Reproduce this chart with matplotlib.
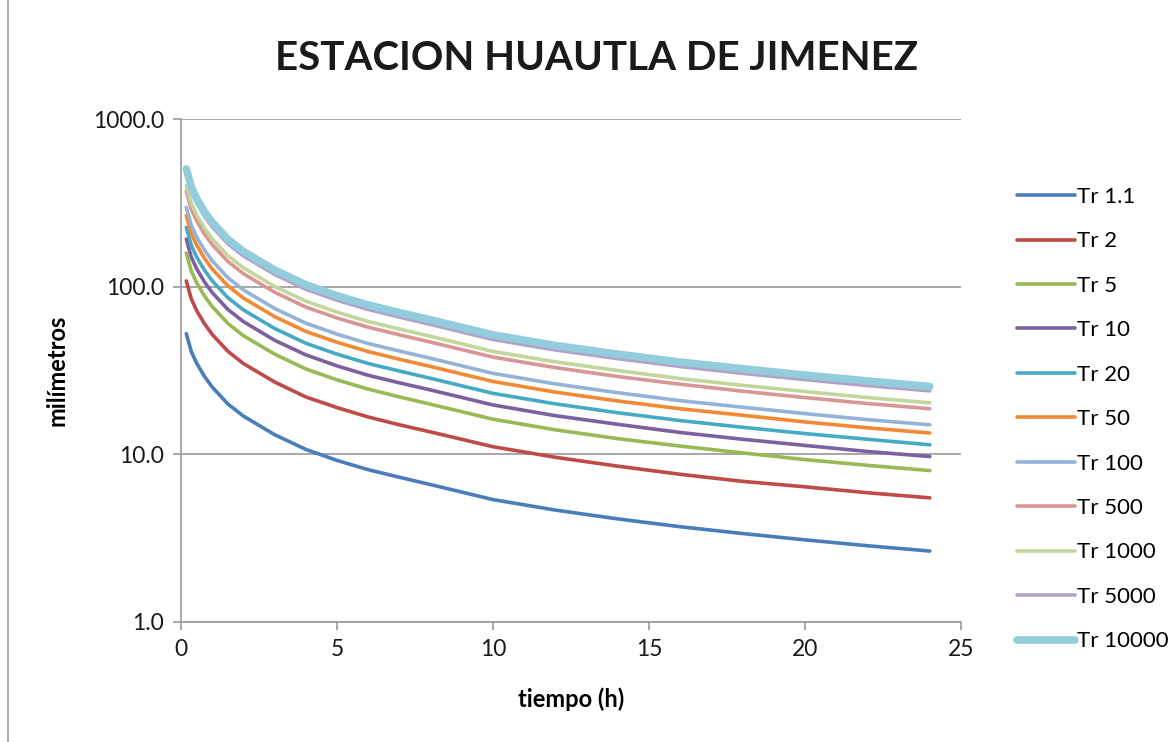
import matplotlib
matplotlib.use("Agg")
import matplotlib.pyplot as plt
from matplotlib.ticker import FixedLocator, FuncFormatter, NullLocator
from matplotlib.lines import Line2D

# ---- data ----
tiempo_h = [0.17, 0.33, 0.5, 0.75, 1, 1.5, 2, 3, 4, 5, 6, 7, 8, 10, 12, 14, 16, 18, 20, 22, 24]

tr_1_1 = [52.5, 41.0, 35.0, 29.2, 25.2, 20.0, 16.9, 13.1, 10.7, 9.2, 8.1, 7.3, 6.6, 5.37, 4.65, 4.12, 3.70, 3.37, 3.09, 2.85, 2.65]
tr_2 = [108.2, 84.5, 72.1, 60.2, 51.9, 41.2, 34.8, 27.0, 22.0, 19.0, 16.7, 15.0, 13.6, 11.1, 9.6, 8.5, 7.6, 6.9, 6.4, 5.9, 5.5]
tr_5 = [158.6, 123.8, 105.7, 88.2, 76.1, 60.4, 51.0, 39.6, 32.3, 27.8, 24.5, 22.0, 19.9, 16.2, 14.0, 12.4, 11.2, 10.2, 9.3, 8.6, 8.0]
tr_10 = [192.2, 150.1, 128.1, 106.9, 92.2, 73.2, 61.9, 47.9, 39.2, 33.7, 29.6, 26.7, 24.2, 19.7, 17.0, 15.1, 13.5, 12.3, 11.3, 10.4, 9.7]
tr_20 = [225.8, 176.3, 150.5, 125.6, 108.4, 86.0, 72.7, 56.3, 46.0, 39.6, 34.8, 31.4, 28.4, 23.1, 20.0, 17.7, 15.9, 14.5, 13.3, 12.3, 11.4]
tr_50 = [265.7, 207.5, 177.1, 147.8, 127.5, 101.2, 85.5, 66.3, 54.1, 46.6, 41.0, 36.9, 33.4, 27.2, 23.5, 20.8, 18.7, 17.1, 15.6, 14.4, 13.4]
tr_100 = [297.2, 232.1, 198.1, 165.3, 142.6, 113.2, 95.7, 74.1, 60.6, 52.1, 45.8, 41.3, 37.4, 30.4, 26.3, 23.3, 20.9, 19.1, 17.5, 16.1, 15.0]
tr_500 = [371.2, 289.9, 247.5, 206.4, 178.2, 141.4, 119.5, 92.6, 75.6, 65.0, 57.3, 51.6, 46.7, 38.0, 32.9, 29.1, 26.2, 23.8, 21.8, 20.1, 18.7]
tr_1000 = [402.2, 314.1, 268.1, 223.7, 193.0, 153.2, 129.5, 100.3, 82.0, 70.5, 62.0, 55.9, 50.6, 41.1, 35.6, 31.6, 28.3, 25.8, 23.7, 21.8, 20.3]
tr_5000 = [473.6, 369.8, 315.7, 263.4, 227.3, 180.4, 152.4, 118.2, 96.5, 83.0, 73.1, 65.8, 59.5, 48.4, 41.9, 37.2, 33.4, 30.4, 27.9, 25.7, 23.9]
tr_10000 = [504.0, 393.6, 336.0, 280.3, 241.9, 192.0, 162.2, 125.8, 102.7, 88.3, 77.8, 70.1, 63.4, 51.6, 44.6, 39.6, 35.5, 32.4, 29.7, 27.4, 25.4]

series_labels = ["Tr 1.1", "Tr 2", "Tr 5", "Tr 10", "Tr 20", "Tr 50", "Tr 100",
                 "Tr 500", "Tr 1000", "Tr 5000", "Tr 10000"]
series_values = [tr_1_1, tr_2, tr_5, tr_10, tr_20, tr_50, tr_100,
                 tr_500, tr_1000, tr_5000, tr_10000]

x_ticks = [0, 5, 10, 15, 20, 25]
y_ticks = [1.0, 10.0, 100.0, 1000.0]

# ---- style ----
colors = ["#4A7EBB", "#BE4B48", "#98B954", "#7D60A0", "#46AAC5", "#F08A35",
          "#95B3D7", "#D99694", "#C3D69B", "#B3A2C7", "#93CDDD"]
widths = [2.6] * 10 + [5.5]

plt.rcParams['font.family'] = ['Lato', 'DejaVu Sans']

fig = plt.figure(figsize=(11.74, 7.42), dpi=100)
ax = fig.add_axes([181/1174, 1-622/742, (961-181)/1174, (622-119)/742])

for vals, lab, c, w in zip(series_values, series_labels, colors, widths):
    ax.plot(tiempo_h, vals, color=c, lw=w, label=lab, solid_capstyle='round',
            solid_joinstyle='round')

ax.set_yscale('log')
ax.set_ylim(1, 1000)
ax.set_xlim(0, 25)
ax.yaxis.set_major_locator(FixedLocator(y_ticks))
ax.yaxis.set_minor_locator(NullLocator())
ax.yaxis.set_major_formatter(FuncFormatter(lambda v, p: f"{v:.1f}"))
ax.xaxis.set_major_locator(FixedLocator(x_ticks))
ax.grid(axis='y', which='major', color='#A0A0A0', lw=1.3)
ax.set_axisbelow(True)

for s in ['top', 'right']:
    ax.spines[s].set_visible(False)
for s in ['left', 'bottom']:
    ax.spines[s].set_color('#A0A0A0')
    ax.spines[s].set_linewidth(1.3)
ax.tick_params(axis='both', colors='#A0A0A0', length=6, width=1.3,
               labelcolor='#1a1a1a', labelsize=16.5)
ax.tick_params(axis='y', pad=6)
ax.tick_params(axis='x', pad=6)

ax.set_xlabel("tiempo (h)", fontsize=17, fontweight='bold', labelpad=20)
ax.set_ylabel("milímetros", fontsize=17, fontweight='bold', labelpad=18)

fig.text(597/1174, 1-59/742, "ESTACION HUAUTLA DE JIMENEZ", ha='center', va='center',
         fontsize=29, fontweight='bold', color='#1a1a1a')

leg = ax.legend(loc='upper left', bbox_to_anchor=(1008/1174, 1-178/742),
                bbox_transform=fig.transFigure, frameon=False, fontsize=16,
                handlelength=2.6, handletextpad=0.1, labelspacing=1.1,
                borderaxespad=0)

# chart area border
fig.add_artist(Line2D([8/1174, 8/1174], [0, 1], color='#A0A0A0', lw=1.2,
                      transform=fig.transFigure))

fig.savefig("out.png", dpi=100)
